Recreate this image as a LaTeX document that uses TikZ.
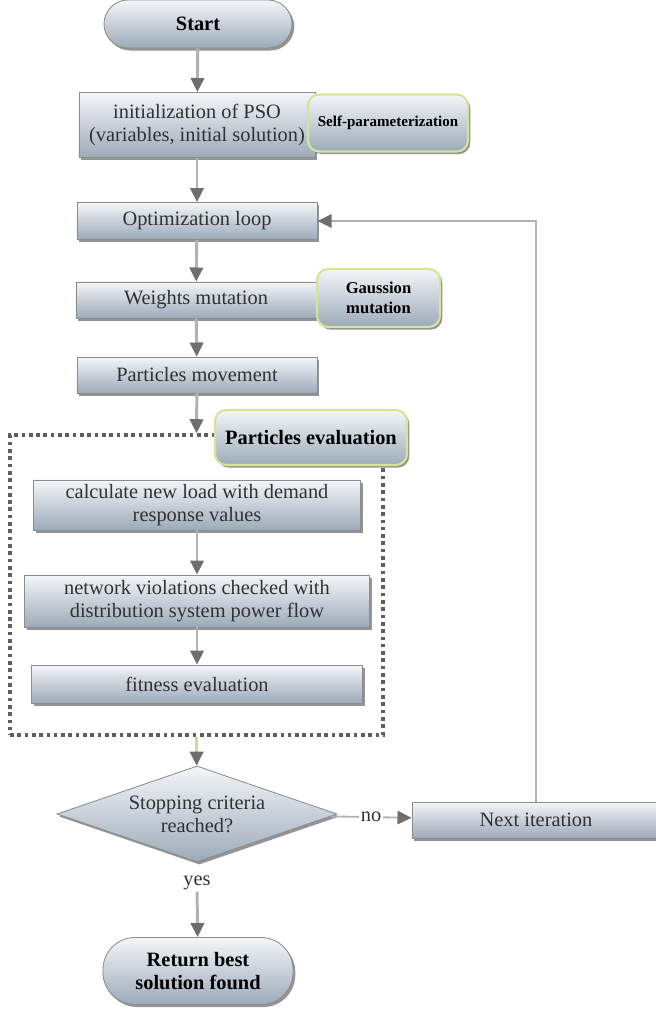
\documentclass[tikz,border=0pt]{standalone}
\usepackage{fontspec}
\setmainfont{Liberation Serif}
\usetikzlibrary{arrows.meta,shapes.geometric,shadows}

\definecolor{boxtop}{RGB}{244,246,249}
\definecolor{boxbot}{RGB}{156,170,185}
\definecolor{boxline}{RGB}{140,140,140}
\definecolor{glowline}{RGB}{212,230,150}
\definecolor{arrline}{RGB}{178,178,178}
\definecolor{arrtip}{RGB}{110,110,110}
\definecolor{txtgray}{RGB}{50,50,50}
\definecolor{dotline}{RGB}{95,95,95}

\begin{document}
\begin{tikzpicture}[x=0.025cm,y=-0.025cm,
    font=\fontsize{14.5}{16.5}\selectfont,
    stepbox/.style={rectangle, draw=boxline, line width=0.6pt, top color=boxtop, bottom color=boxbot,
        text=txtgray, align=center, inner sep=2pt,
        drop shadow={shadow xshift=1.6pt, shadow yshift=-1.8pt, fill=black!60, opacity=.7}},
    pill/.style={stepbox, text=black, font=\fontsize{14.5}{16.5}\selectfont\bfseries},
    note/.style={stepbox, rounded corners=8pt, draw=glowline, line width=1.5pt, text=black},
    decision/.style={stepbox, diamond, aspect=2.9, inner sep=0pt},
    dotbox/.style={draw=dotline, line width=2.4pt, dash pattern=on 2.6pt off 2.6pt},
    arr/.style={draw=arrline, line width=2.1pt, -{Triangle[width=9.5pt,length=10pt,color=arrtip]}},
    thinarr/.style={draw=arrline, line width=1.3pt, -{Triangle[width=9.5pt,length=10pt,color=arrtip]}}]

    \useasboundingbox (0,0) rectangle (656,1011);

    % main column
    \node[pill, minimum width=4.7cm, minimum height=1.2cm, rounded corners=0.6cm] (start) at (198,24) {Start};
    \node[stepbox, minimum width=5.9cm, minimum height=1.625cm] (init) at (197,125) {initialization of PSO\\(variables, initial solution)};
    \node[note, minimum width=4.0cm, minimum height=1.425cm, font=\fontsize{10.7}{13}\selectfont\bfseries] (selfp) at (388,123) {Self-parameterization};
    \node[stepbox, minimum width=6.0cm, minimum height=0.925cm] (optl) at (197,221) {Optimization loop};
    \node[stepbox, minimum width=6.0cm, minimum height=0.9cm] (weights) at (196,300) {Weights mutation};
    \node[note, minimum width=3.075cm, minimum height=1.45cm, font=\fontsize{11.8}{14}\selectfont\bfseries] (gauss) at (378.5,298) {Gaussion\\mutation};
    \node[stepbox, minimum width=6.0cm, minimum height=0.9cm] (move) at (197,375) {Particles movement};

    % particles evaluation block
    \node[dotbox, minimum width=9.325cm, minimum height=7.5cm] (eval) at (196.5,585) {};
    \node[note, minimum width=4.8cm, minimum height=1.375cm, font=\fontsize{14.5}{16.5}\selectfont\bfseries] (peval) at (311,437.5) {Particles evaluation};
    \node[stepbox, minimum width=8.175cm, minimum height=1.25cm] (calc) at (197,505) {calculate new load with demand\\response values};
    \node[stepbox, minimum width=8.625cm, minimum height=1.3cm] (netv) at (197,601) {network violations checked with\\distribution system power flow};
    \node[stepbox, minimum width=8.275cm, minimum height=0.95cm] (fit) at (197,684) {fitness evaluation};

    % decision and end
    \node[decision, minimum width=7.0cm, minimum height=2.4cm] (dia) at (197,814) {Stopping criteria\\reached?};
    \node[stepbox, minimum width=6.2cm, minimum height=0.9cm] (next) at (536,820) {Next iteration};
    \node[text=txtgray, inner sep=1pt] (yes) at (197,883) {yes};
    \node[pill, minimum width=4.75cm, minimum height=1.675cm, rounded corners=0.8cm] (ret) at (198,971) {Return best\\solution found};

    \draw[arr] (start) -- (init);
    \draw[arr] (init) -- (optl);
    \draw[arr] (optl) -- (weights);
    \draw[arr] (weights) -- (move);
    \draw[arr] (move) -- (eval.north);
    \draw[arr] (calc) -- (netv);
    \draw[arr] (netv) -- (fit);
    \draw[arr, draw=glowline!80!arrline] (eval.south) -- (dia);
    \draw[thinarr] (dia) -- node[fill=white, inner sep=1pt, text=txtgray] {no} (next);
    \draw[thinarr] (next.north) |- (optl.east);
    \draw[arr] (yes) -- (ret);
\end{tikzpicture}
\end{document}
